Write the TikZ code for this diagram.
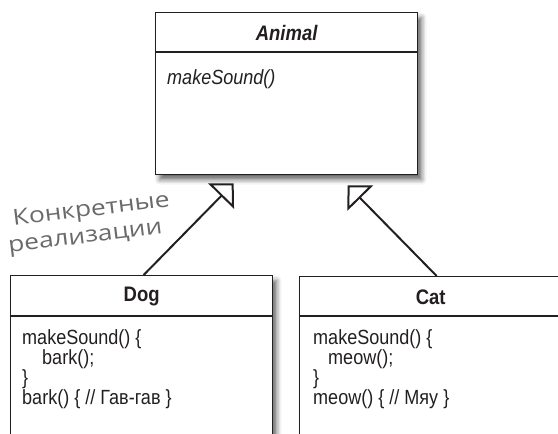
\documentclass[tikz,border=0pt]{standalone}
\usepackage{fontspec}
\setmainfont[FakeStretch=0.88]{Liberation Sans}
\newfontfamily\handfont[FakeStretch=1.2]{Open Sans}
\usetikzlibrary{positioning,arrows.meta,shadows.blur,calc}

\definecolor{ink}{HTML}{231F20}
\definecolor{pencil}{HTML}{6A6A6A}

\begin{document}
\begin{tikzpicture}[x=1pt, y=-1pt,
  classbox/.style={draw=ink, line width=1.3pt, fill=white, minimum width=262pt,
                   anchor=north west, inner sep=0pt,
                   blur shadow={shadow xshift=4pt, shadow yshift=-5pt,
                                shadow blur radius=5pt, shadow opacity=60}},
  classname/.style={font=\fontsize{21}{21}\selectfont\bfseries, text=ink, inner sep=0pt},
  members/.style={font=\fontsize{20.5}{20}\selectfont, text=ink, align=left,
                  anchor=north west, inner sep=0pt},
  divider/.style={draw=ink, line width=1.3pt},
  inherit/.style={draw=ink, line width=2pt,
                  -{Triangle[open, length=18pt, width=36pt, line width=2pt]}},
  note/.style={font=\handfont\fontsize{22}{22}\selectfont, text=pencil,
               rotate=7, anchor=base, inner sep=0pt}
]
  \useasboundingbox (0,0) rectangle (558,434);

  % Superclass
  \node[classbox, minimum height=162pt] (animal) at (155,12) {};
  \node[classname, font=\fontsize{21}{21}\selectfont\bfseries\itshape] (animalname)
    at ($(animal.north)+(0,21)$) {Animal};
  \draw[divider] ($(animal.north west)+(0,40)$) -- ($(animal.north east)+(0,40)$);
  \node[members, font=\fontsize{20.5}{20}\selectfont\itshape] (animalbody)
    at ($(animal.north west)+(12,57)$) {makeSound()};

  % Subclasses
  \node[classbox, minimum height=200pt] (dog) at (10,275) {};
  \node[classname] (dogname) at ($(dog.north)+(0,21)$) {Dog};
  \draw[divider] ($(dog.north west)+(0,41)$) -- ($(dog.north east)+(0,41)$);
  \node[members] (dogbody) at ($(dog.north west)+(12,54)$)
    {makeSound() \{\\\hspace*{20pt}bark();\\\}\\bark() \{ // Гав-гав \}};

  \node[classbox, minimum height=200pt] (cat) at (299,276) {};
  \node[classname] (catname) at ($(cat.north)+(0,21)$) {Cat};
  \draw[divider] ($(cat.north west)+(0,40)$) -- ($(cat.north east)+(0,40)$);
  \node[members] (catbody) at ($(cat.north west)+(14,53)$)
    {makeSound() \{\\\hspace*{15pt}meow();\\\}\\meow() \{ // Мяу \}};

  % Inheritance arrows
  \coordinate (dogtip) at ($(animal.south)+(-53,8)$);
  \coordinate (cattip) at ($(animal.south)+(61,10)$);
  \draw[inherit] ($(dog.north)+(2,0)$) -- (dogtip);
  \draw[inherit] ($(cat.north)+(6,0)$) -- (cattip);

  % Handwritten note
  \node[note] (notetop) at (92,216) {Конкретные};
  \node[note] (notebottom) at (86,243) {реализации};
\end{tikzpicture}
\end{document}
